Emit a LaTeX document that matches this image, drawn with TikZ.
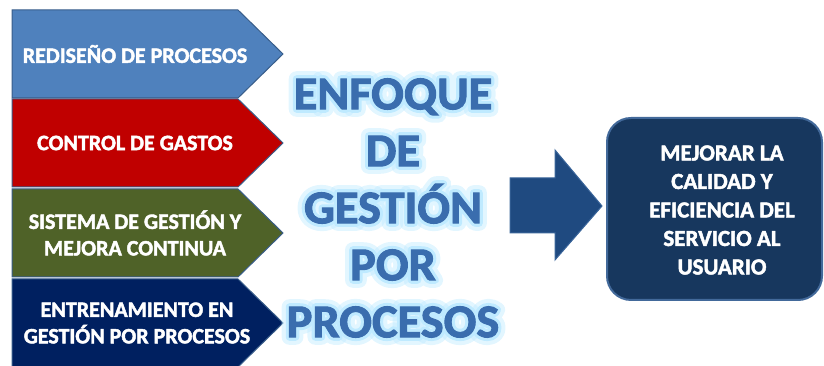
\documentclass[tikz,border=0pt]{standalone}
\usepackage{fontspec}
\setmainfont{Carlito}[BoldFeatures={FakeBold=2}]
\newfontfamily\glowwide[BoldFeatures={FakeBold=32}]{Carlito}
\newfontfamily\glownarrow[BoldFeatures={FakeBold=15}]{Carlito}
\usetikzlibrary{positioning}
\definecolor{redisblue}{HTML}{4F81BD}
\definecolor{gastosred}{HTML}{C00000}
\definecolor{mejoraolive}{HTML}{4F6228}
\definecolor{entrennavy}{HTML}{002060}
\definecolor{chevronline}{HTML}{385D8A}
\definecolor{enfoqueblue}{HTML}{3A6DAE}
\definecolor{glowcyan}{HTML}{BFEAFF}
\definecolor{arrowblue}{HTML}{1F4A80}
\definecolor{arrowline}{HTML}{3A659A}
\definecolor{metanavy}{HTML}{17375E}
\definecolor{metaline}{HTML}{42699A}

\begin{document}
\begin{tikzpicture}[x=1pt,y=1pt,
    chevron/.style={draw=chevronline,line width=1pt,line join=miter},
    chevron text/.style={text=white,font=\fontsize{22}{26.5}\selectfont\bfseries,align=center,inner sep=0pt},
    big text/.style={font=\fontsize{47}{57}\selectfont\bfseries,align=center,inner sep=0pt,xscale=1.03},
    glow/.style={big text,text=glowcyan,line join=round},
    goal box/.style={rounded corners=24pt,fill=metanavy,draw=metaline,line width=2pt,minimum width=215pt,minimum height=182pt},
    goal text/.style={text=white,font=\fontsize{23}{28.5}\selectfont\bfseries,align=center,inner sep=0pt}]
  \useasboundingbox (0,0) rectangle (824,366);
  \begin{scope}
    \clip (0,0) rectangle (824,366);
    % left column of chevrons
    \draw[chevron,fill=redisblue]   (12,356) -- (238,356) -- (283,312) -- (238,268) -- (12,268) -- cycle;
    \draw[chevron,fill=gastosred]   (12,267) -- (238,267) -- (283,223) -- (238,179) -- (12,179) -- cycle;
    \draw[chevron,fill=mejoraolive] (12,177) -- (238,177) -- (283,133) -- (238,89) -- (12,89) -- cycle;
    \draw[chevron,fill=entrennavy]  (12,87) -- (238,87) -- (283,43) -- (238,-1) -- (12,-1) -- cycle;
  \end{scope}
  \node[chevron text] (redis)  at (135,312) {REDISEÑO DE PROCESOS};
  \node[chevron text] (gastos) at (135,223) {CONTROL DE GASTOS};
  \node[chevron text] (mejora) at (135,133) {SISTEMA DE GESTIÓN Y\\MEJORA CONTINUA};
  \node[chevron text] (entren) at (137,43)  {ENTRENAMIENTO EN\\GESTIÓN POR PROCESOS};
  % glowing title
  \node[glow,opacity=0.45,font=\glowwide\fontsize{47}{57}\selectfont\bfseries] (enfoque wide) at (393,158) {ENFOQUE\\DE\\GESTIÓN\\POR\\PROCESOS};
  \node[glow,font=\glownarrow\fontsize{47}{57}\selectfont\bfseries] (enfoque glow) at (393,158) {ENFOQUE\\DE\\GESTIÓN\\POR\\PROCESOS};
  \node[big text,text=enfoqueblue] (enfoque) at (393,158) {ENFOQUE\\DE\\GESTIÓN\\POR\\PROCESOS};
  % block arrow and goal
  \draw[fill=arrowblue,draw=arrowline,line width=1pt] (510,188) -- (555,188) -- (555,216) -- (602,160) -- (555,106) -- (555,133) -- (510,133) -- cycle;
  \node[goal box] (meta) at (714.5,157) {};
  \node[goal text] (meta text) at (722,156) {MEJORAR LA\\CALIDAD Y\\EFICIENCIA DEL\\SERVICIO AL\\USUARIO};
\end{tikzpicture}
\end{document}
